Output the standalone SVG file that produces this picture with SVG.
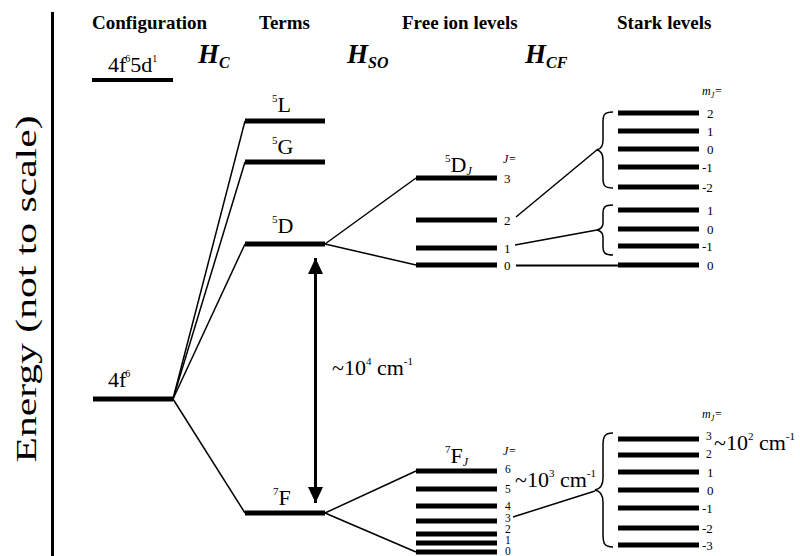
<svg xmlns="http://www.w3.org/2000/svg" width="800" height="556" viewBox="0 0 800 556">
<style>
text{font-family:"Liberation Serif","Times New Roman",serif;fill:#000}
.hd{font-size:19px;font-weight:bold}
.H{font-size:27px;font-weight:bold;font-style:italic}
.Hs{font-size:16px;font-weight:bold;font-style:italic}
.lb{font-size:22px}
.sm{font-size:13px}
.xs{font-size:11.5px}
.it{font-style:italic;font-size:12px}
.lv{stroke:#000;stroke-width:5;fill:none}
.cn{stroke:#000;stroke-width:1.5;fill:none}
.br{stroke:#000;stroke-width:1.5;fill:none}
</style>
<defs>
<marker id="ah" viewBox="0 0 16 15" refX="16" refY="7.5" markerWidth="16" markerHeight="15" markerUnits="userSpaceOnUse" orient="auto-start-reverse">
<path d="M0,0 L16,7.5 L0,15 Z" fill="#000"/>
</marker>
</defs>
<rect width="800" height="556" fill="#fff"/>
<g id="axis">
<line x1="52.5" y1="12" x2="52.5" y2="556" stroke="#000" stroke-width="3"/>
<text transform="translate(36,289) rotate(-90)" text-anchor="middle" textLength="347" lengthAdjust="spacingAndGlyphs" font-family="'Liberation Serif', 'Times New Roman', serif" font-weight="normal" style="font-size:29px">Energy (not to scale)</text>
</g>
<g id="headers">
<text class="hd" x="92" y="29">Configuration</text>
<text class="hd" x="259" y="29">Terms</text>
<text class="hd" x="402" y="29">Free ion levels</text>
<text class="hd" x="617" y="29">Stark levels</text>
<text class="H" x="198" y="63">H<tspan class="Hs" dy="5">C</tspan></text>
<text class="H" x="347" y="63">H<tspan class="Hs" dy="5">SO</tspan></text>
<text class="H" x="525" y="63">H<tspan class="Hs" dy="5">CF</tspan></text>
</g>
<g id="connectors">
<line class="cn" x1="173" y1="399" x2="245" y2="121"/>
<line class="cn" x1="173" y1="399" x2="245" y2="162"/>
<line class="cn" x1="173" y1="399" x2="245" y2="244"/>
<line class="cn" x1="173" y1="399" x2="245" y2="513"/>
<line class="cn" x1="325" y1="244" x2="416" y2="178"/>
<line class="cn" x1="325" y1="244" x2="416" y2="265"/>
<line class="cn" x1="325" y1="513" x2="416" y2="471"/>
<line class="cn" x1="325" y1="513" x2="416" y2="552"/>
<line class="cn" x1="516" y1="217" x2="598" y2="149"/>
<line class="cn" x1="515" y1="245" x2="597" y2="230"/>
<line x1="516" y1="265.5" x2="618" y2="265.5" stroke="#000" stroke-width="2"/>
<line class="cn" x1="513" y1="517" x2="595" y2="491"/>
<line x1="315.5" y1="258" x2="315.5" y2="503" stroke="#000" stroke-width="3" marker-start="url(#ah)" marker-end="url(#ah)"/>
</g>
<g id="config">
<line class="lv" x1="92" y1="80" x2="173" y2="80" style="stroke-width:4"/>
<text class="lb" x="108" y="72">4f<tspan font-size="10" dx="-1" dy="-10">6</tspan><tspan dy="10">5d</tspan><tspan font-size="10" dy="-10">1</tspan></text>
<line class="lv" x1="93" y1="399" x2="173" y2="399"/>
<text class="lb" x="108" y="387">4f<tspan font-size="10" dx="-1" dy="-10">6</tspan></text>
</g>
<g id="term-5L">
<line class="lv" x1="245" y1="121" x2="325" y2="121"/>
<text class="lb" x="272" y="112"><tspan font-size="11" dy="-10">5</tspan><tspan dy="10">L</tspan></text>
</g>
<g id="term-5G">
<line class="lv" x1="245" y1="162" x2="325" y2="162"/>
<text class="lb" x="272" y="154"><tspan font-size="11" dy="-10">5</tspan><tspan dy="10">G</tspan></text>
</g>
<g id="term-5D">
<line class="lv" x1="245" y1="244" x2="325" y2="244"/>
<text class="lb" x="272" y="233"><tspan font-size="11" dy="-10">5</tspan><tspan dy="10">D</tspan></text>
</g>
<g id="term-7F">
<line class="lv" x1="245" y1="513" x2="325" y2="513"/>
<text class="lb" x="273" y="505"><tspan font-size="11" dy="-10">7</tspan><tspan dy="10">F</tspan></text>
</g>
<g id="label-1e4">
<text class="lb" x="332" y="375">~10<tspan font-size="11" dy="-10">4</tspan><tspan dy="10"> cm</tspan><tspan font-size="11" dy="-10">-1</tspan></text>
</g>
<g id="free-5DJ">
<text class="lb" x="445" y="172"><tspan font-size="11" dy="-10">5</tspan><tspan dy="10">D</tspan><tspan class="it" dy="3">J</tspan></text>
<text class="it" x="503" y="163">J=</text>
<line class="lv" x1="416" y1="178" x2="497" y2="178"/>
<line class="lv" x1="416" y1="220" x2="497" y2="220"/>
<line class="lv" x1="416" y1="248" x2="497" y2="248"/>
<line class="lv" x1="416" y1="265" x2="497" y2="265"/>
<text class="sm" x="504" y="183">3</text>
<text class="sm" x="504" y="225">2</text>
<text class="sm" x="504" y="253">1</text>
<text class="sm" x="504" y="270">0</text>
</g>
<g id="free-7FJ">
<text class="lb" x="445" y="463"><tspan font-size="11" dy="-10">7</tspan><tspan dy="10">F</tspan><tspan class="it" dy="3">J</tspan></text>
<text class="it" x="503" y="455">J=</text>
<line class="lv" x1="416" y1="471" x2="497" y2="471"/>
<line class="lv" x1="416" y1="489" x2="497" y2="489"/>
<line class="lv" x1="416" y1="506" x2="497" y2="506"/>
<line class="lv" x1="416" y1="521" x2="497" y2="521"/>
<line class="lv" x1="416" y1="534" x2="497" y2="534"/>
<line class="lv" x1="416" y1="543" x2="497" y2="543"/>
<line class="lv" x1="416" y1="552" x2="497" y2="552"/>
<text class="xs" x="505" y="473">6</text>
<text class="xs" x="505" y="493">5</text>
<text class="xs" x="505" y="510">4</text>
<text class="xs" x="505" y="522">3</text>
<text class="xs" x="505" y="533">2</text>
<text class="xs" x="505" y="544">1</text>
<text class="xs" x="505" y="555">0</text>
<text class="lb" x="515" y="487">~10<tspan font-size="11" dy="-10">3</tspan><tspan dy="10"> cm</tspan><tspan font-size="11" dy="-10">-1</tspan></text>
</g>
<g id="stark-5D">
<text class="it" x="702" y="95">m<tspan font-size="8" dy="3">J</tspan><tspan dy="-3">=</tspan></text>
<path class="br" d="M613,112 C604,112 603,115 603,122 L603,140 C603,146 601,149 597,150 C601,151 603,154 603,160 L603,178 C603,185 604,188 613,188"/>
<path class="br" d="M613,205 C604,205 603,208 603,213 L603,223 C603,227 601,229 597,230 C601,231 603,233 603,237 L603,247 C603,252 604,255 613,255"/>
<line class="lv" x1="618" y1="113" x2="699" y2="113"/>
<line class="lv" x1="618" y1="131" x2="699" y2="131"/>
<line class="lv" x1="618" y1="149" x2="699" y2="149"/>
<line class="lv" x1="618" y1="167" x2="699" y2="167"/>
<line class="lv" x1="618" y1="187" x2="699" y2="187"/>
<line class="lv" x1="618" y1="210" x2="699" y2="210"/>
<line class="lv" x1="618" y1="229" x2="699" y2="229"/>
<line class="lv" x1="618" y1="246" x2="699" y2="246"/>
<line class="lv" x1="618" y1="265" x2="699" y2="265"/>
<text class="sm" x="707" y="118">2</text>
<text class="sm" x="707" y="136">1</text>
<text class="sm" x="707" y="154">0</text>
<text class="sm" x="702" y="172">-1</text>
<text class="sm" x="702" y="192">-2</text>
<text class="sm" x="707" y="215">1</text>
<text class="sm" x="707" y="234">0</text>
<text class="sm" x="702" y="251">-1</text>
<text class="sm" x="707" y="270">0</text>
</g>
<g id="stark-7F">
<text class="it" x="702" y="418">m<tspan font-size="8" dy="3">J</tspan><tspan dy="-3">=</tspan></text>
<path class="br" d="M613,433 C604,433 603,437 603,446 L603,478 C603,485 600,489 595,490 C600,491 603,495 603,502 L603,534 C603,543 604,547 613,547"/>
<line class="lv" x1="618" y1="439" x2="699" y2="439"/>
<line class="lv" x1="618" y1="455" x2="699" y2="455"/>
<line class="lv" x1="618" y1="472" x2="699" y2="472"/>
<line class="lv" x1="618" y1="490" x2="699" y2="490"/>
<line class="lv" x1="618" y1="508" x2="699" y2="508"/>
<line class="lv" x1="618" y1="528" x2="699" y2="528"/>
<line class="lv" x1="618" y1="545" x2="699" y2="545"/>
<text class="xs" x="706" y="440">3</text>
<text class="xs" x="706" y="458">2</text>
<text class="sm" x="707" y="477">1</text>
<text class="sm" x="707" y="495">0</text>
<text class="sm" x="702" y="513">-1</text>
<text class="sm" x="702" y="533">-2</text>
<text class="sm" x="702" y="550">-3</text>
<text class="lb" x="714" y="450">~10<tspan font-size="11" dy="-10">2</tspan><tspan dy="10"> cm</tspan><tspan font-size="11" dy="-10">-1</tspan></text>
</g>
</svg>
